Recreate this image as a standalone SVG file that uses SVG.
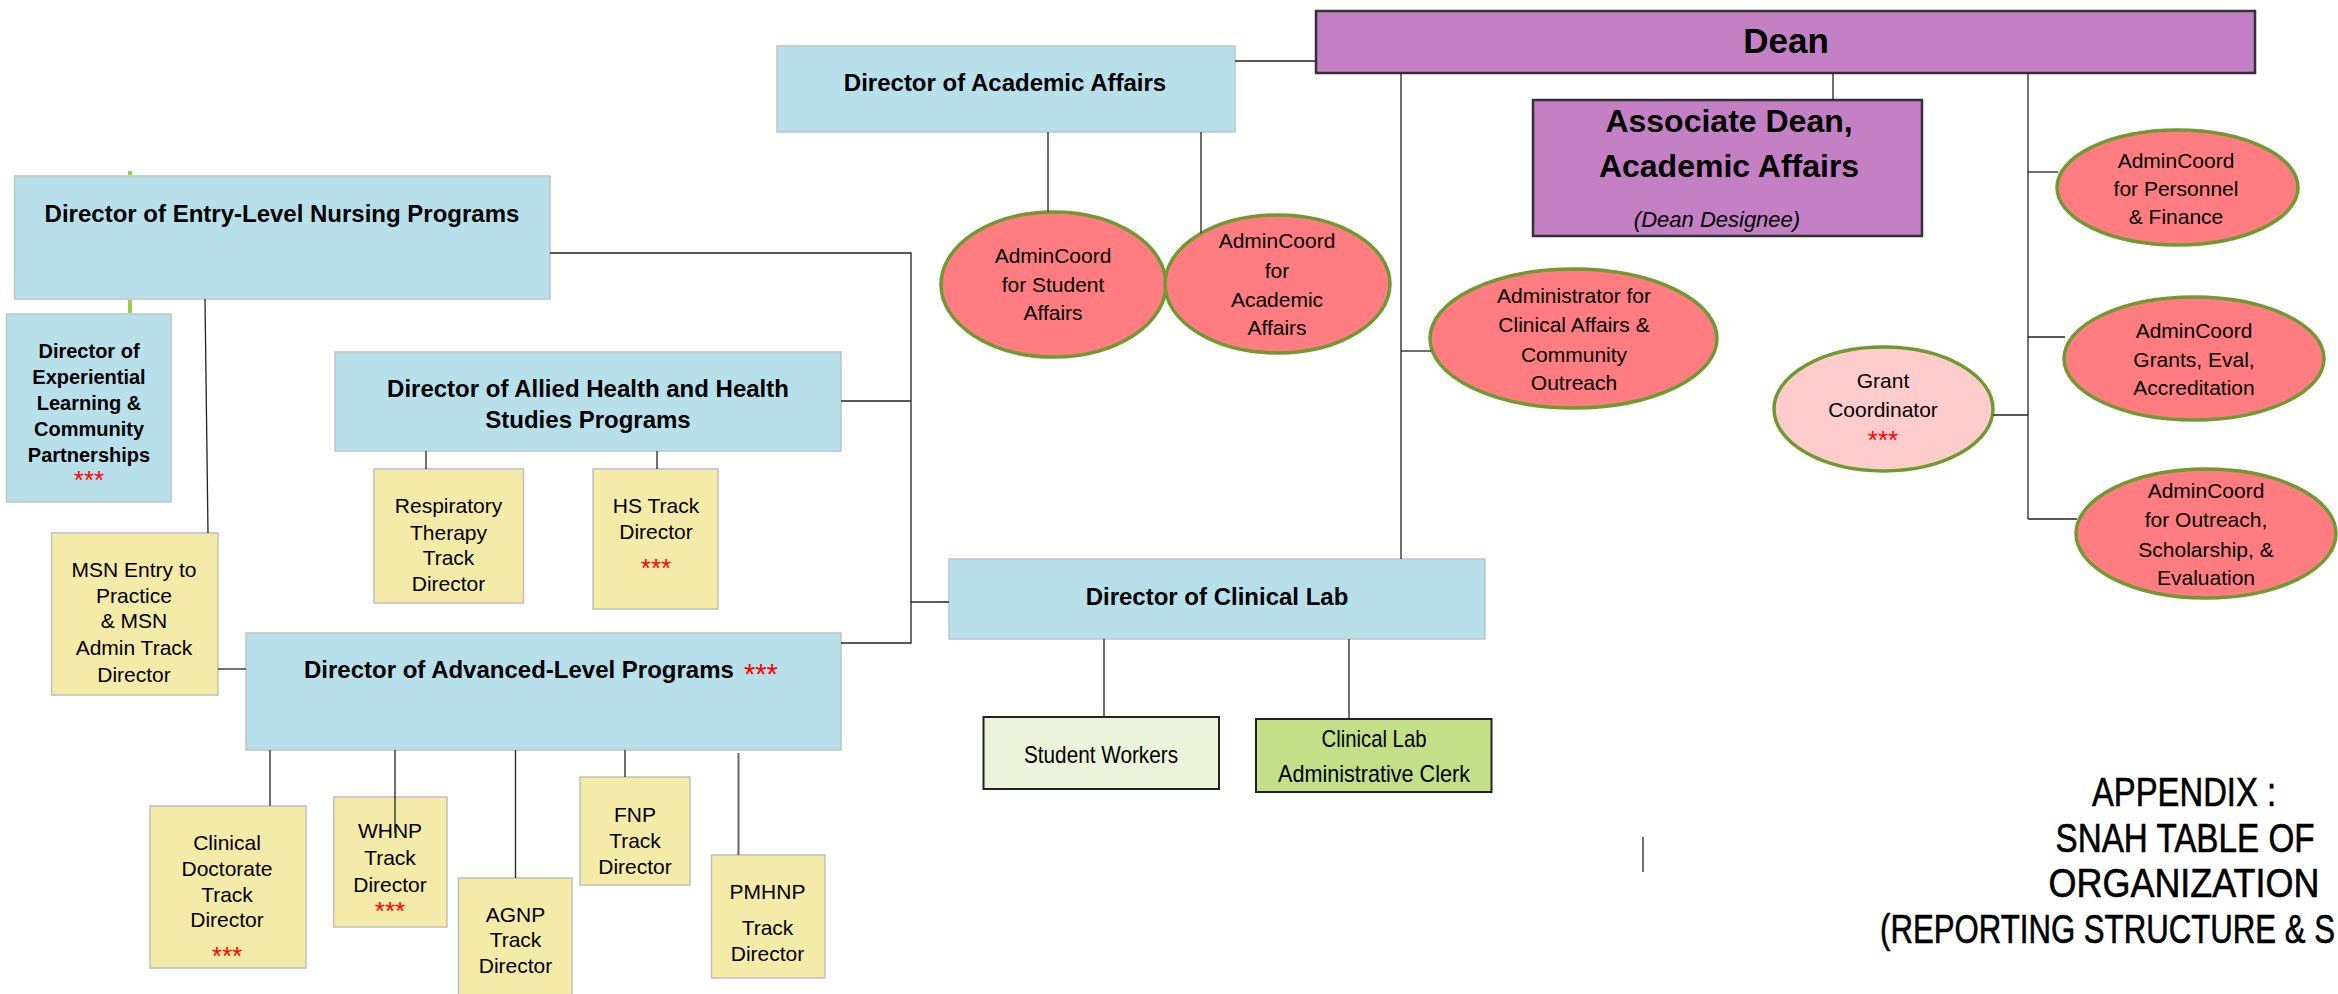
<svg xmlns="http://www.w3.org/2000/svg" width="2338" height="994" viewBox="0 0 2338 994">
<style>
text{font-family:"Liberation Sans",Arial,sans-serif;fill:#000;text-anchor:middle}
.blue{fill:#B7E0EA;stroke:#BFC4C6;stroke-width:1.5}
.yel{fill:#F5EBA8;stroke:#BFBFBF;stroke-width:1.5}
.purp{fill:#C480C4;stroke:#333;stroke-width:2.5}
.ell{fill:#FF7C80;stroke:#6F9A2F;stroke-width:3.5}
.pink{fill:#FFCCCC;stroke:#6F9A2F;stroke-width:3.5}
.b{font-weight:bold;font-size:24px}
.eb{font-weight:bold;font-size:20px}
.r{font-size:21px}
.c{font-size:24px}
.ast{fill:#FF0000;font-size:26px}
.conn line,.conn path{stroke:#222;stroke-width:1.3;fill:none}
.conn line.green{stroke:#92D050;stroke-width:4}
.ttl{font-size:40px;stroke:#000;stroke-width:0.6}
</style>
<rect width="2338" height="994" fill="#fff"/>

<g id="dean">
<rect class="purp" x="1316" y="11" width="939" height="62"/>
<text x="1786" y="53" style="font-weight:bold;font-size:35px">Dean</text>
</g>
<g id="assoc-dean">
<rect class="purp" x="1533" y="100" width="389" height="136"/>
<text x="1729" y="132" style="font-weight:bold;font-size:32px">Associate Dean,</text>
<text x="1729" y="177" style="font-weight:bold;font-size:32px">Academic Affairs</text>
<text x="1717" y="227" style="font-style:italic;font-size:22px">(Dean Designee)</text>
</g>
<g id="dir-academic-affairs">
<rect class="blue" x="777" y="46" width="458" height="86"/>
<text class="b" x="1005" y="91">Director of Academic Affairs</text>
</g>
<g id="dir-entry-level">
<rect class="blue" x="14.5" y="176" width="535.5" height="123"/>
<text class="b" x="282" y="222">Director of Entry-Level Nursing Programs</text>
</g>
<g id="dir-experiential">
<rect class="blue" x="6.5" y="314" width="164.5" height="188"/>
<text class="eb" x="89" y="358">Director of</text>
<text class="eb" x="89" y="384">Experiential</text>
<text class="eb" x="89" y="410">Learning &amp;</text>
<text class="eb" x="89" y="436">Community</text>
<text class="eb" x="89" y="462">Partnerships</text>
<text class="ast" x="89" y="489">***</text>
</g>
<g id="dir-allied">
<rect class="blue" x="335" y="352" width="506" height="99"/>
<text class="b" x="588" y="397">Director of Allied Health and Health</text>
<text class="b" x="588" y="428">Studies Programs</text>
</g>
<g id="rt-track">
<rect class="yel" x="374" y="469" width="149.5" height="134"/>
<text class="r" x="448.5" y="513">Respiratory</text>
<text class="r" x="448.5" y="540">Therapy</text>
<text class="r" x="448.5" y="565">Track</text>
<text class="r" x="448.5" y="591">Director</text>
</g>
<g id="hs-track">
<rect class="yel" x="593" y="469" width="125" height="140"/>
<text class="r" x="656" y="513">HS Track</text>
<text class="r" x="656" y="539">Director</text>
<text class="ast" x="656" y="577">***</text>
</g>
<g id="msn-track">
<rect class="yel" x="51.6" y="533" width="166.4" height="162"/>
<text class="r" x="134" y="577">MSN Entry to</text>
<text class="r" x="134" y="603">Practice</text>
<text class="r" x="134" y="628">&amp; MSN</text>
<text class="r" x="134" y="655">Admin Track</text>
<text class="r" x="134" y="682">Director</text>
</g>
<g id="dir-advanced">
<rect class="blue" x="246" y="633" width="595" height="117"/>
<text class="b" x="304" y="678" style="text-anchor:start">Director of Advanced-Level Programs</text>
<text class="ast" x="744" y="684" style="text-anchor:start;font-size:29px">***</text>
</g>
<g id="cd-track">
<rect class="yel" x="150" y="806" width="156" height="162"/>
<text class="r" x="227" y="850">Clinical</text>
<text class="r" x="227" y="876">Doctorate</text>
<text class="r" x="227" y="902">Track</text>
<text class="r" x="227" y="927">Director</text>
<text class="ast" x="227" y="965">***</text>
</g>
<g id="whnp-track">
<rect class="yel" x="333.7" y="797" width="113.3" height="130"/>
<text class="r" x="390" y="838">WHNP</text>
<text class="r" x="390" y="865">Track</text>
<text class="r" x="390" y="892">Director</text>
<text class="ast" x="390" y="920">***</text>
</g>
<g id="agnp-track">
<rect class="yel" x="458.5" y="878" width="113.5" height="130"/>
<text class="r" x="515.5" y="922">AGNP</text>
<text class="r" x="515.5" y="947">Track</text>
<text class="r" x="515.5" y="973">Director</text>
</g>
<g id="fnp-track">
<rect class="yel" x="580" y="777" width="110" height="108"/>
<text class="r" x="635" y="822">FNP</text>
<text class="r" x="635" y="848">Track</text>
<text class="r" x="635" y="874">Director</text>
</g>
<g id="pmhnp-track">
<rect class="yel" x="711.5" y="855" width="113.5" height="123"/>
<text class="r" x="767.5" y="899">PMHNP</text>
<text class="r" x="767.5" y="935">Track</text>
<text class="r" x="767.5" y="961">Director</text>
</g>
<g id="dir-clinical-lab">
<rect class="blue" x="949" y="559" width="536" height="80"/>
<text class="b" x="1217" y="605">Director of Clinical Lab</text>
</g>
<g id="student-workers">
<rect x="983.5" y="717" width="235.5" height="72" fill="#EBF4DA" stroke="#222" stroke-width="2"/>
<text class="c" x="1101" y="763" textLength="154" lengthAdjust="spacingAndGlyphs">Student Workers</text>
</g>
<g id="clinical-lab-clerk">
<rect x="1256" y="719" width="235.5" height="73" fill="#C3DF88" stroke="#222" stroke-width="2"/>
<text class="c" x="1374" y="747" textLength="105" lengthAdjust="spacingAndGlyphs">Clinical Lab</text>
<text class="c" x="1374" y="782" textLength="192" lengthAdjust="spacingAndGlyphs">Administrative Clerk</text>
</g>
<g id="admincoord-student-affairs">
<ellipse class="ell" cx="1053.5" cy="284.5" rx="112.5" ry="72.5"/>
<text class="r" x="1053" y="263">AdminCoord</text>
<text class="r" x="1053" y="292">for Student</text>
<text class="r" x="1053" y="320">Affairs</text>
</g>
<g id="admincoord-academic-affairs">
<ellipse class="ell" cx="1277.5" cy="284" rx="112.5" ry="69"/>
<text class="r" x="1277" y="248">AdminCoord</text>
<text class="r" x="1277" y="278">for</text>
<text class="r" x="1277" y="307">Academic</text>
<text class="r" x="1277" y="335">Affairs</text>
</g>
<g id="admin-clinical-affairs">
<ellipse class="ell" cx="1573.5" cy="338.5" rx="143.5" ry="69.5"/>
<text class="r" x="1574" y="303">Administrator for</text>
<text class="r" x="1574" y="332">Clinical Affairs &amp;</text>
<text class="r" x="1574" y="362">Community</text>
<text class="r" x="1574" y="390">Outreach</text>
</g>
<g id="admincoord-personnel">
<ellipse class="ell" cx="2177.5" cy="187.5" rx="120.5" ry="57.5"/>
<text class="r" x="2176" y="168">AdminCoord</text>
<text class="r" x="2176" y="196">for Personnel</text>
<text class="r" x="2176" y="224">&amp; Finance</text>
</g>
<g id="grant-coordinator">
<ellipse class="pink" cx="1883.5" cy="409" rx="109.5" ry="62"/>
<text class="r" x="1883" y="388">Grant</text>
<text class="r" x="1883" y="417">Coordinator</text>
<text class="ast" x="1883" y="449">***</text>
</g>
<g id="admincoord-grants">
<ellipse class="ell" cx="2194" cy="358.5" rx="130" ry="61.5"/>
<text class="r" x="2194" y="338">AdminCoord</text>
<text class="r" x="2194" y="367">Grants, Eval,</text>
<text class="r" x="2194" y="395">Accreditation</text>
</g>
<g id="admincoord-outreach">
<ellipse class="ell" cx="2206" cy="533.5" rx="130" ry="64.5"/>
<text class="r" x="2206" y="498">AdminCoord</text>
<text class="r" x="2206" y="527">for Outreach,</text>
<text class="r" x="2206" y="557">Scholarship, &amp;</text>
<text class="r" x="2206" y="585">Evaluation</text>
</g>

<g id="connectors" class="conn">
<line x1="1235" y1="61" x2="1316" y2="61"/>
<line x1="1048" y1="132" x2="1048" y2="212"/>
<line x1="1201" y1="132" x2="1201" y2="233"/>
<line x1="1833" y1="73" x2="1833" y2="100"/>
<line x1="1401" y1="73" x2="1401" y2="559"/>
<line x1="1401" y1="351" x2="1431" y2="351"/>
<line x1="2028" y1="73" x2="2028" y2="519"/>
<line x1="2028" y1="172" x2="2058" y2="172"/>
<line x1="2028" y1="337" x2="2065" y2="337"/>
<line x1="1993" y1="415" x2="2028" y2="415"/>
<line x1="2028" y1="519" x2="2077" y2="519"/>
<path d="M550 253 H911 V643 H841"/>
<line x1="841" y1="401" x2="911" y2="401"/>
<line x1="911" y1="602" x2="949" y2="602"/>
<line x1="205" y1="299" x2="208" y2="533"/>
<line class="green" x1="130" y1="171" x2="130" y2="175"/>
<line class="green" x1="130" y1="300" x2="130" y2="313"/>
<line x1="426" y1="451" x2="426" y2="469"/>
<line x1="657" y1="451" x2="657" y2="469"/>
<line x1="218" y1="669" x2="246" y2="669"/>
<line x1="270" y1="750" x2="270" y2="806"/>
<line x1="395" y1="750" x2="395" y2="833"/>
<line x1="515.5" y1="750" x2="515.5" y2="878"/>
<line x1="625" y1="750" x2="625" y2="777"/>
<line x1="738.5" y1="753" x2="738.5" y2="855" style="stroke:#666;stroke-width:2"/>
<line x1="1104" y1="639" x2="1104" y2="716"/>
<line x1="1349" y1="639" x2="1349" y2="718"/>
<line x1="1643" y1="837" x2="1643" y2="872"/>
</g>

<g id="title">
<text class="ttl" x="2184" y="806" textLength="184" lengthAdjust="spacingAndGlyphs">APPENDIX :</text>
<text class="ttl" x="2185" y="852" textLength="259" lengthAdjust="spacingAndGlyphs">SNAH TABLE OF</text>
<text class="ttl" x="2184" y="897" textLength="271" lengthAdjust="spacingAndGlyphs">ORGANIZATION</text>
<text class="ttl" x="1880" y="943" style="text-anchor:start" textLength="455" lengthAdjust="spacingAndGlyphs">(REPORTING STRUCTURE &amp; S</text>
</g>
</svg>
